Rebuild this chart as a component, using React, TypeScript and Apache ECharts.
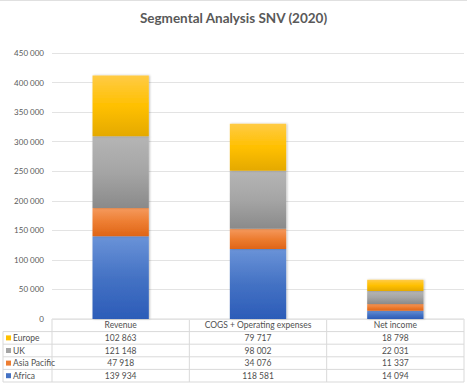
import React, { useEffect, useRef } from "react";
import * as echarts from "echarts";

const categories = ["Revenue", "COGS + Operating expenses", "Net income"];
const seriesNames = ["Africa", "Asia Pacific", "UK", "Europe"];
const africa = [139934, 118581, 14094];
const asiaPacific = [47918, 34076, 11337];
const uk = [121148, 98002, 22031];
const europe = [102863, 79717, 18798];
const yTicks = [0, 50000, 100000, 150000, 200000, 250000, 300000, 350000, 400000, 450000];

const W = 467;
const H = 388;
const GRID_LEFT = 52;
const GRID_RIGHT = 3;
const GRID_TOP = 53;
const GRID_BOTTOM = 69;
const ROW_H = 12.6;
const LEGEND_LEFT = 3;

const gradients: [string, string, string][] = [
  ["#6a93d8", "#4472c4", "#2c5cb8"],
  ["#f59a5e", "#ed7d31", "#df6517"],
  ["#b5b5b5", "#a5a5a5", "#8a8a8a"],
  ["#ffcb45", "#ffc000", "#e4a900"],
];
const keyColors = ["#4472c4", "#ed7d31", "#a5a5a5", "#ffc000"];

const fmt = (v: number) => {
  const s = String(Math.round(v));
  return s.replace(/\B(?=(\d{3})+(?!\d))/g, " ");
};

export default function App() {
  const ref = useRef<HTMLDivElement>(null);
  useEffect(() => {
    if (!ref.current) return;
    const chart = echarts.init(ref.current, undefined, { renderer: "svg" });
    const values = [africa, asiaPacific, uk, europe];
    const plotRight = W - GRID_RIGHT;
    const plotBottom = H - GRID_BOTTOM;
    const colW = (plotRight - GRID_LEFT) / categories.length;
    const textColor = "#505050";
    const lineColor = "#d9d9d9";
    const font = "Lato, 'Open Sans', sans-serif";

    const graphics: any[] = [];
    graphics.push({
      type: "line",
      shape: { x1: 0, y1: 0.5, x2: W, y2: 0.5 },
      style: { stroke: "#e0e0e0", lineWidth: 1 },
    });
    const rowOrder = [3, 2, 1, 0];
    const nRows = rowOrder.length + 1;
    for (let r = 0; r <= nRows; r++) {
      const y = plotBottom + r * ROW_H;
      graphics.push({
        type: "line",
        shape: { x1: r === 0 ? GRID_LEFT : LEGEND_LEFT, y1: y, x2: plotRight, y2: y },
        style: { stroke: lineColor, lineWidth: 1 },
      });
    }
    for (let c = 0; c <= categories.length; c++) {
      const x = GRID_LEFT + c * colW;
      graphics.push({
        type: "line",
        shape: { x1: x, y1: plotBottom, x2: x, y2: plotBottom + nRows * ROW_H },
        style: { stroke: lineColor, lineWidth: 1 },
      });
    }
    graphics.push({
      type: "line",
      shape: { x1: LEGEND_LEFT, y1: plotBottom + ROW_H, x2: LEGEND_LEFT, y2: plotBottom + nRows * ROW_H },
      style: { stroke: lineColor, lineWidth: 1 },
    });
    categories.forEach((cat, c) => {
      graphics.push({
        type: "text",
        x: GRID_LEFT + (c + 0.5) * colW,
        y: plotBottom + ROW_H / 2,
        style: { text: cat, fill: textColor, fontSize: 8.5, fontFamily: font, align: "center", verticalAlign: "middle" },
      });
    });
    rowOrder.forEach((si, r) => {
      const yMid = plotBottom + (r + 1.5) * ROW_H;
      graphics.push({
        type: "rect",
        shape: { x: LEGEND_LEFT + 3, y: yMid - 2.5, width: 5, height: 5 },
        style: { fill: keyColors[si] },
      });
      graphics.push({
        type: "text",
        x: LEGEND_LEFT + 10,
        y: yMid,
        style: { text: seriesNames[si], fill: textColor, fontSize: 8.5, fontFamily: font, align: "left", verticalAlign: "middle" },
      });
      values[si].forEach((v, c) => {
        graphics.push({
          type: "text",
          x: GRID_LEFT + (c + 0.5) * colW,
          y: yMid,
          style: { text: fmt(v), fill: textColor, fontSize: 8.5, fontFamily: font, align: "center", verticalAlign: "middle" },
        });
      });
    });

    chart.setOption({
      animation: false,
      backgroundColor: "#ffffff",
      title: {
        text: "Segmental Analysis SNV (2020)",
        left: "center",
        top: 6,
        textStyle: { fontSize: 13.5, fontWeight: "bold", color: "#595959", fontFamily: font },
      },
      grid: { left: GRID_LEFT, right: GRID_RIGHT, top: GRID_TOP, bottom: GRID_BOTTOM },
      xAxis: {
        type: "category",
        data: categories,
        axisLine: { show: false },
        axisTick: { show: false },
        axisLabel: { show: false },
      },
      yAxis: {
        type: "value",
        min: yTicks[0],
        max: yTicks[yTicks.length - 1],
        interval: yTicks[1] - yTicks[0],
        axisLine: { show: false },
        axisTick: { show: false },
        axisLabel: { formatter: (v: number) => fmt(v), color: "#595959", fontSize: 8, fontFamily: font, margin: 8 },
        splitLine: { lineStyle: { color: "#e3e3e3", width: 1 } },
      },
      series: values.map((vals, i) => ({
        name: seriesNames[i],
        type: "bar",
        stack: "total",
        barWidth: "41%",
        data: vals,
        itemStyle: {
          color: new echarts.graphic.LinearGradient(0, 0, 0, 1, [
            { offset: 0, color: gradients[i][0] },
            { offset: 0.5, color: gradients[i][1] },
            { offset: 1, color: gradients[i][2] },
          ]),
          shadowColor: "rgba(0,0,0,0.25)",
          shadowBlur: 2,
          shadowOffsetX: 1,
          shadowOffsetY: 0,
        },
      })),
      graphic: graphics,
    });
    return () => chart.dispose();
  }, []);
  return <div ref={ref} style={{ position: "fixed", left: 0, top: 0, width: W, height: H }} />;
}
